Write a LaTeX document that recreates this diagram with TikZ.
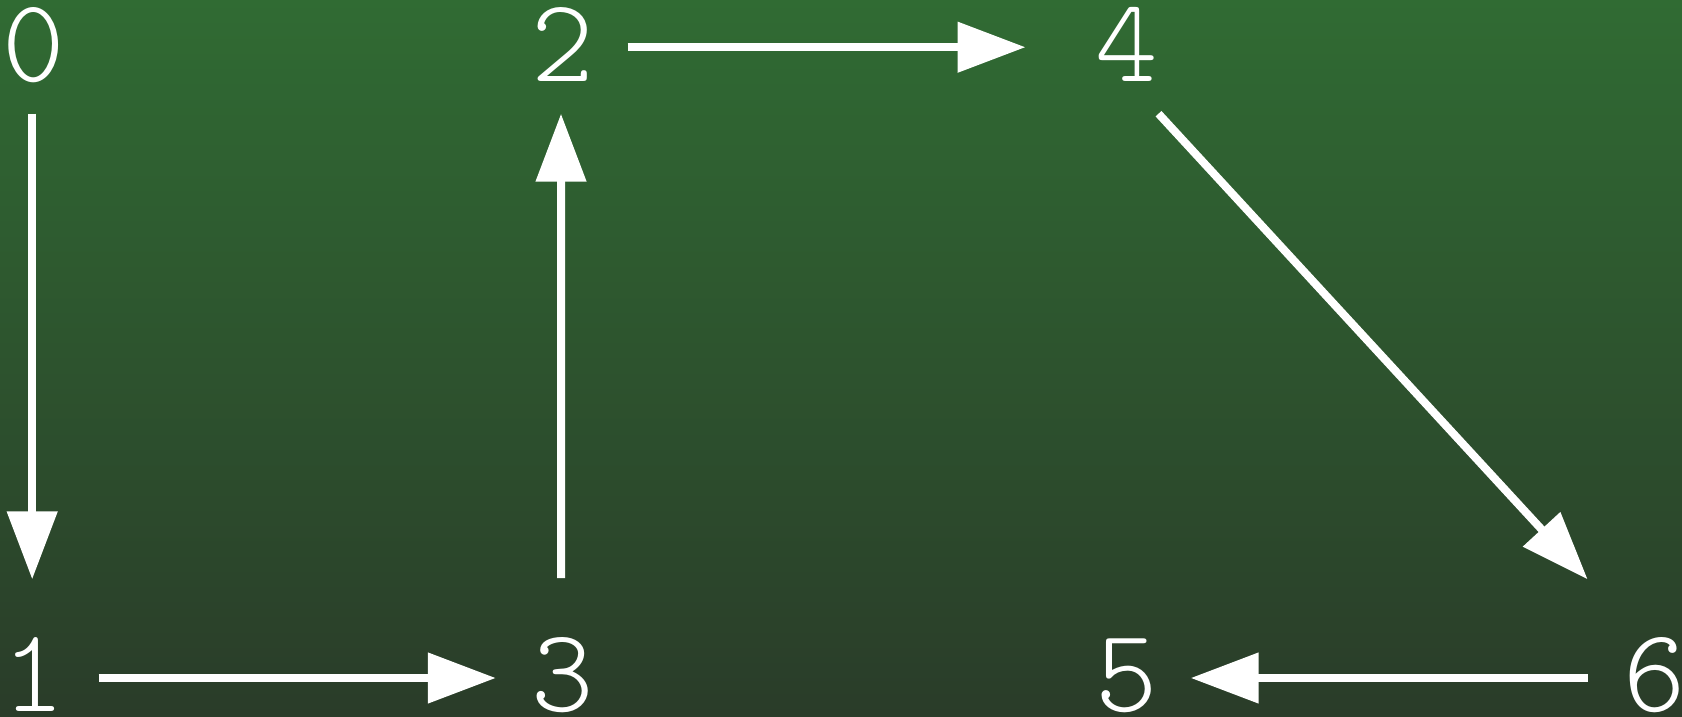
\documentclass[tikz,border=0pt]{standalone}
\usepackage{fontspec}
\newfontfamily\digitfont{Latin Modern Mono Light}
\usetikzlibrary{arrows.meta}
\definecolor{bgtop}{HTML}{306B33}
\definecolor{bgbot}{HTML}{2A3C29}
\tikzset{
  lbl/.style={text=white,inner sep=0pt,anchor=base,font=\digitfont\fontsize{119}{119}\selectfont},
  arr/.style={draw=white,line width=8pt,-{Triangle[length=68pt,width=49pt]}}
}
\begin{document}
\begin{tikzpicture}[x=1pt,y=-1pt]
\useasboundingbox (0,0) rectangle (1682,716);
\shade[top color=bgtop,bottom color=bgbot] (0,0) rectangle (1682,716);
\node[lbl] (n0) at (33.8,81.5) {0};
\node[lbl] (n2) at (563,81.5) {2};
\node[lbl] (n4) at (1126.4,81.5) {4};
\node[lbl] (n1) at (33.8,711) {1};
\node[lbl] (n3) at (563.2,711) {3};
\node[lbl] (n5) at (1127,711) {5};
\node[lbl] (n6) at (1654.7,711) {6};
\draw[arr] ([shift={(-1.6,32.2)}]n0.base) -- ([shift={(-1.6,-131.7)}]n1.base);
\draw[arr] ([shift={(-2,-133)}]n3.base) -- ([shift={(-2,32.2)}]n2.base);
\draw[arr] ([shift={(64.5,-34.3)}]n2.base) -- ([shift={(-100.9,-34.3)}]n4.base);
\draw[arr] ([shift={(64.9,-33)}]n1.base) -- ([shift={(-67.4,-33)}]n3.base);
\draw[arr] ([shift={(-67.1,-33)}]n6.base) -- ([shift={(63.7,-33)}]n5.base);
\draw[arr] ([shift={(32.1,32.2)}]n4.base) -- ([shift={(-67.1,-131.7)}]n6.base);
\end{tikzpicture}
\end{document}
